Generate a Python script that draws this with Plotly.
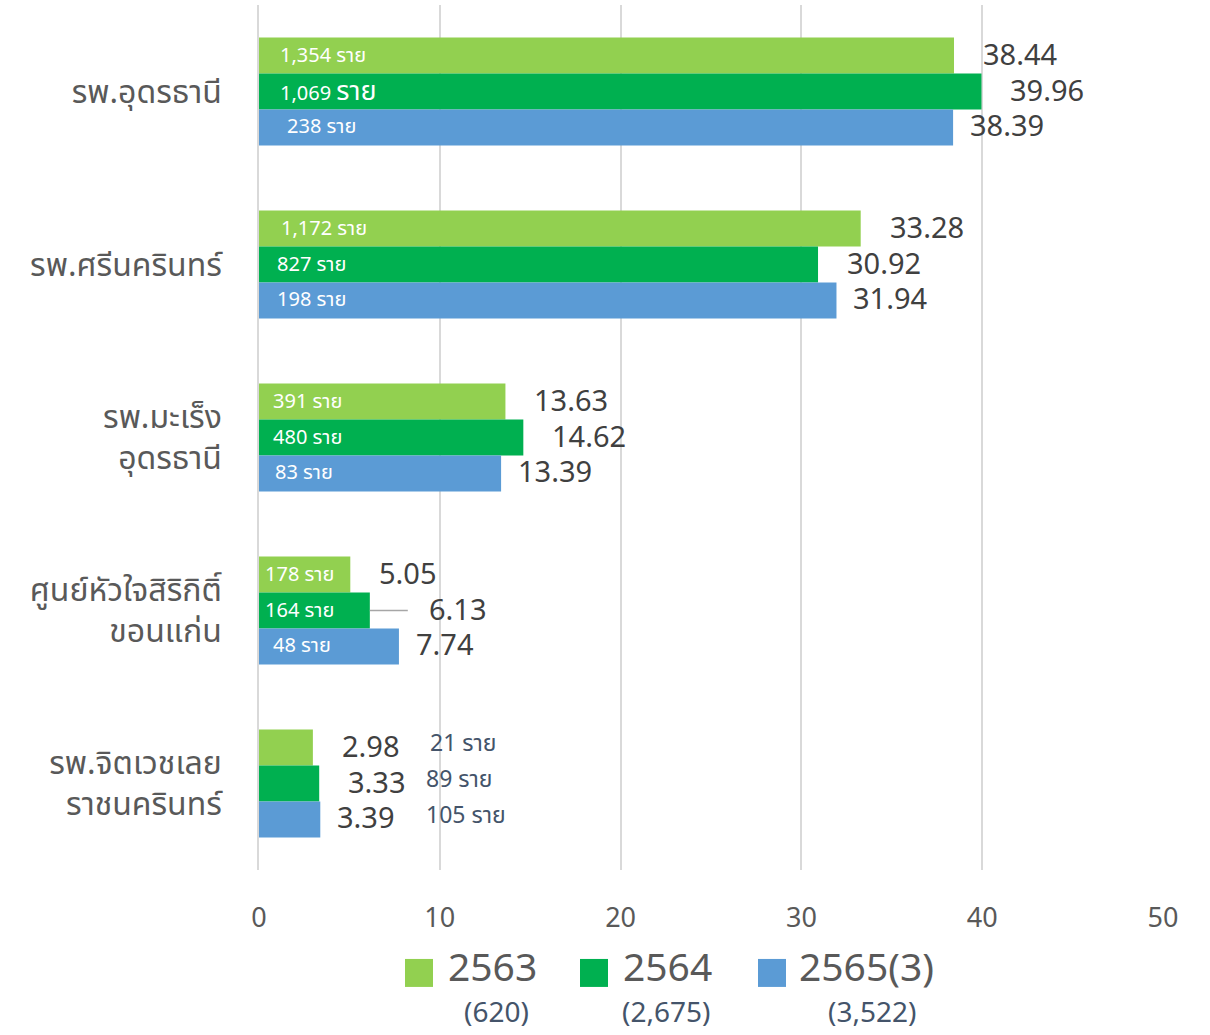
import plotly.graph_objects as go

categories = ["รพ.อุดรธานี", "รพ.ศรีนครินทร์", "รพ.มะเร็ง<br>อุดรธานี",
              "ศูนย์หัวใจสิริกิติ์<br>ขอนแก่น", "รพ.จิตเวชเลย<br>ราชนครินทร์"]
series_names = ["2563", "2564", "2565(3)"]
series_totals = ["(620)", "(2,675)", "(3,522)"]
values_2563 = [38.44, 33.28, 13.63, 5.05, 2.98]
values_2564 = [39.96, 30.92, 14.62, 6.13, 3.33]
values_2565 = [38.39, 31.94, 13.39, 7.74, 3.39]
cases_2563 = ["1,354", "1,172", "391", "178", "21"]
cases_2564 = ["1,069", "827", "480", "164", "89"]
cases_2565 = ["238", "198", "83", "48", "105"]
x_ticks = [0, 10, 20, 30, 40, 50]

values = [values_2563, values_2564, values_2565]
cases = [cases_2563, cases_2564, cases_2565]
colors = ["#92D050", "#00B050", "#5B9BD5"]
FONT = "Noto Sans Thai, Noto Sans, sans-serif"
DARK = "#404040"
GREY = "#595959"
NAVY = "#44546A"

fig = go.Figure()
for name, vals, col in zip(series_names, values, colors):
    fig.add_trace(go.Bar(y=categories, x=vals, name=name, orientation="h",
                         marker=dict(color=col, line=dict(width=0)),
                         showlegend=False))

ncat = len(categories)
bw = (1 - 0.376) / 3
inside_shift = [[19, 20, 12, 4, None], [19, 16, 12, 4, None], [26, 16, 14, 12, None]]
value_shift = [27, 27, 15]
outside_case_shift = [115, 105, 104]
annotations = []
for s in range(3):
    for i in range(ncat):
        yy = i + (s - 1) * bw
        v = values[s][i]
        vs = value_shift[s]
        if s == 1 and i == 3:
            vs = 57
        annotations.append(dict(x=v, y=yy, xref="x", yref="y", text=f"{v:.2f}",
                                showarrow=False, xanchor="left", yanchor="middle",
                                xshift=vs, font=dict(family=FONT, size=29, color=DARK)))
        if i < ncat - 1:
            unit = "ราย"
            if s == 1 and i == 0:
                unit = "<span style='font-size:27px'>ราย</span>"
            annotations.append(dict(x=0, y=yy, xref="x", yref="y",
                                    text=f"{cases[s][i]} {unit}",
                                    showarrow=False, xanchor="left", yanchor="middle",
                                    xshift=inside_shift[s][i],
                                    font=dict(family=FONT, size=20, color="white")))
        else:
            annotations.append(dict(x=v, y=yy - 0.02, xref="x", yref="y",
                                    text=f"{cases[s][i]} ราย",
                                    showarrow=False, xanchor="left", yanchor="middle",
                                    xshift=outside_case_shift[s],
                                    font=dict(family=FONT, size=23, color=NAVY)))

# custom legend
leg_sq_x = [405, 580, 758]
leg_txt_x = [446, 621, 797]
cnt_x = [496, 666, 872]
def px_x(px):
    return (px - 259) / 904
def px_y(py):
    return (870 - py) / 865.5
shapes = []
for k in range(3):
    shapes.append(dict(type="rect", xref="paper", yref="paper",
                       x0=px_x(leg_sq_x[k]), x1=px_x(leg_sq_x[k] + 28),
                       y0=px_y(987), y1=px_y(959),
                       fillcolor=colors[k], line=dict(width=0)))
    annotations.append(dict(x=px_x(leg_txt_x[k]), y=px_y(970), xref="paper", yref="paper",
                            text=series_names[k], showarrow=False, xanchor="left",
                            yanchor="middle",
                            font=dict(family=FONT, size=39, color=GREY)))
    annotations.append(dict(x=px_x(cnt_x[k]), y=px_y(1014), xref="paper", yref="paper",
                            text=series_totals[k], showarrow=False, xanchor="center",
                            yanchor="middle",
                            font=dict(family=FONT, size=28, color=NAVY)))

# leader line for the 6.13 label
shapes.append(dict(type="line", xref="x", yref="y",
                   x0=values_2564[3], x1=values_2564[3] + 2.1, y0=3, y1=3,
                   line=dict(color="#A6A6A6", width=1.5)))

fig.update_layout(
    width=1210, height=1035,
    margin=dict(l=259, r=47, t=5, b=165),
    paper_bgcolor="white", plot_bgcolor="white",
    barmode="group", bargap=0.376, bargroupgap=0,
    font=dict(family=FONT, color=GREY),
    annotations=annotations, shapes=shapes,
    xaxis=dict(range=[0, 50], tickvals=x_ticks, showgrid=True, gridcolor="#D9D9D9",
               gridwidth=1.5, zeroline=False, showline=False, ticks="",
               ticklabelstandoff=29, tickfont=dict(family=FONT, size=27, color=GREY)),
    yaxis=dict(autorange="reversed", showgrid=False, zeroline=False, showline=True,
               linecolor="#D9D9D9", linewidth=1.5, ticks="", ticklabelstandoff=29,
               tickfont=dict(family=FONT, size=32, color=GREY)),
)

fig.write_html("out.html", config={"displayModeBar": False},
               post_script="document.body.style.margin='0';document.body.style.overflow='hidden';")
